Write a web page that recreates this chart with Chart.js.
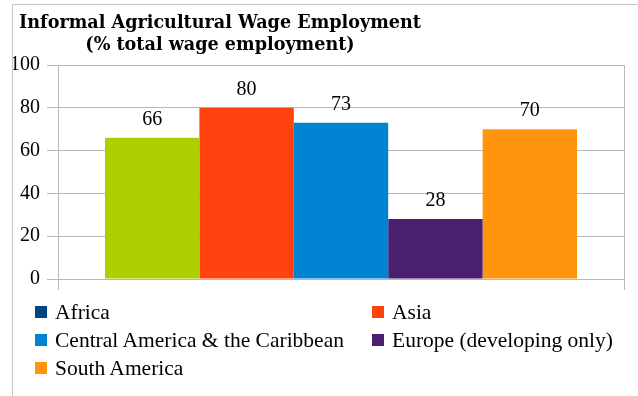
<!DOCTYPE html>
<html>
<head>
<meta charset="utf-8">
<script src="https://cdn.jsdelivr.net/npm/chart.js@4/dist/chart.umd.min.js"></script>
<style>
  html, body { margin: 0; padding: 0; background: #fff; }
  #frame { position: relative; width: 638px; height: 396px; overflow: hidden; background: #fff; }
  #lineTop { position: absolute; left: 12px; top: 4px; width: 626px; height: 1px; background: #c6c6c6; }
  #lineLeft { position: absolute; left: 12px; top: 4px; width: 1px; height: 392px; background: #c6c6c6; }
  #title {
    position: absolute; left: 18px; top: 11px; width: 404px;
    text-align: center; white-space: nowrap;
    font-family: "DejaVu Serif", serif; font-weight: bold; font-size: 17.6px; line-height: 22px; color: #000;
  }
  #plotWrap { position: absolute; left: 13px; top: 5px; width: 625px; height: 300px; overflow: hidden; }
  #plotWrap canvas { position: absolute; left: -13px; top: -5px; }
  #legend { position: absolute; left: 35px; top: 298px; width: 600px;
    display: grid; grid-template-columns: 337px 260px; grid-auto-rows: 28px;
    font-family: "Liberation Serif", serif; font-size: 21.5px; color: #000; }
  .item { display: flex; align-items: center; white-space: nowrap; }
  .sw { width: 12px; height: 12px; margin-right: 8px; flex: none; }
</style>
</head>
<body>
<div id="frame">
  <div id="plotWrap"><canvas id="c" width="638" height="305"></canvas></div>
  <div id="title">Informal Agricultural Wage Employment<br>(% total wage employment)</div>
  <div id="legend"></div>
  <div id="lineTop"></div>
  <div id="lineLeft"></div>
</div>
<script>
// Regions and their share of informal agricultural wage employment (%)
const regions = ["Africa", "Asia", "Central America & the Caribbean", "Europe (developing only)", "South America"];
const values = [66, 80, 73, 28, 70];
const barColors = ["#aecf00", "#ff420e", "#0084d1", "#4b1f6f", "#ff950e"];
const legendColors = ["#004586", "#ff420e", "#0084d1", "#4b1f6f", "#ff950e"];
const yTicks = [0, 20, 40, 60, 80, 100];

const gridColor = "#b8b8b8";
const serif = "'Liberation Serif', serif";

// value labels above each bar
const valueLabels = {
  id: "valueLabels",
  afterDatasetsDraw(chart) {
    const ctx = chart.ctx;
    ctx.save();
    ctx.fillStyle = "#000";
    ctx.font = "20px " + serif;
    ctx.textAlign = "center";
    ctx.textBaseline = "bottom";
    chart.data.datasets.forEach((ds, i) => {
      const bar = chart.getDatasetMeta(i).data[0];
      ctx.fillText(String(ds.data[0]), bar.x, bar.y - 8);
    });
    ctx.restore();
  }
};

new Chart(document.getElementById("c"), {
  type: "bar",
  data: {
    labels: [""],
    datasets: regions.map((r, i) => ({
      label: r,
      data: [values[i]],
      backgroundColor: barColors[i],
      borderWidth: 0,
      categoryPercentage: 0.834,
      barPercentage: 1.0
    }))
  },
  options: {
    responsive: false,
    animation: false,
    layout: { padding: { top: 65, right: 14, bottom: 15, left: 0 } },
    plugins: { legend: { display: false }, title: { display: false }, tooltip: { enabled: false } },
    scales: {
      x: {
        grid: { offset: true, color: gridColor, lineWidth: 1, tickLength: 11, drawTicks: true },
        border: { display: true, color: gridColor },
        ticks: { display: false },
        afterFit(s) { s.height = 11; }
      },
      y: {
        min: 0, max: 100,
        afterBuildTicks(s) { s.ticks = yTicks.map(v => ({ value: v })); },
        grid: { color: gridColor, lineWidth: 1, tickLength: 11 },
        border: { display: true, color: gridColor },
        ticks: { color: "#000", font: { family: serif, size: 20 }, padding: 7 },
        afterFit(s) { s.width = 58; }
      }
    }
  },
  plugins: [valueLabels]
});

// legend with the region swatches, two columns
const legend = document.getElementById("legend");
regions.forEach((r, i) => {
  const item = document.createElement("div");
  item.className = "item";
  const sw = document.createElement("span");
  sw.className = "sw";
  sw.style.background = legendColors[i];
  const t = document.createElement("span");
  t.textContent = r;
  item.appendChild(sw);
  item.appendChild(t);
  legend.appendChild(item);
});
</script>
</body>
</html>
